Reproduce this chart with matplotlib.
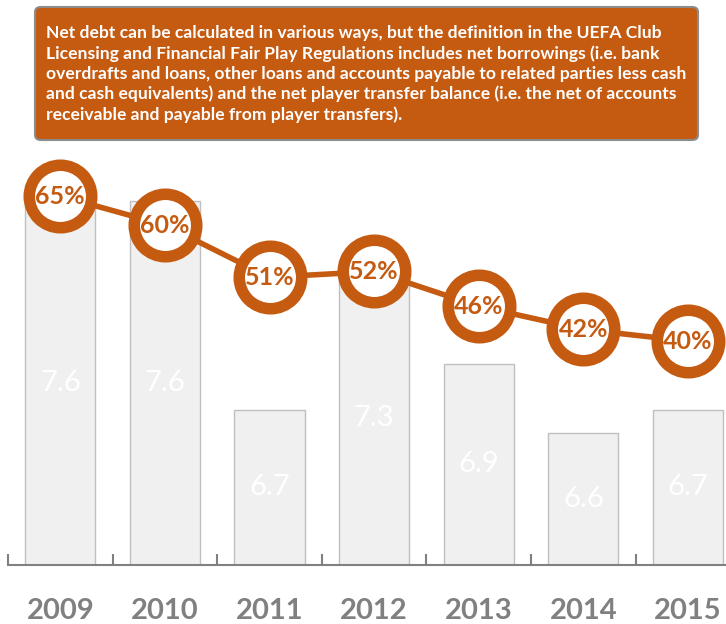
import matplotlib.pyplot as plt
from matplotlib.patches import FancyBboxPatch

# data
years = ['2009', '2010', '2011', '2012', '2013', '2014', '2015']
net_debt = [7.6, 7.6, 6.7, 7.3, 6.9, 6.6, 6.7]
debt_pct = [65, 60, 51, 52, 46, 42, 40]

note = ('Net debt can be calculated in various ways, but the definition in the UEFA Club\n'
        'Licensing and Financial Fair Play Regulations includes net borrowings (i.e. bank\n'
        'overdrafts and loans, other loans and accounts payable to related parties less cash\n'
        'and cash equivalents) and the net player transfer balance (i.e. the net of accounts\n'
        'receivable and payable from player transfers).')

orange = '#C55A11'
grey = '#808080'

plt.rcParams['font.family'] = ['Lato', 'DejaVu Sans']

fig = plt.figure(figsize=(7.26, 6.24), dpi=100)
# axes: left edge at x=8px, baseline at y=565px, top at figure top
ax = fig.add_axes([8 / 726, 59 / 624, 1 - 8 / 726, 565 / 624])
x = list(range(len(years)))

ax.bar(x, net_debt, width=0.67, bottom=0, color='#f0f0f0',
       edgecolor='#bfbfbf', linewidth=1.0, zorder=1)
ax.set_ylim(6.03, 8.47)

for xi, v in zip(x, net_debt):
    ax.text(xi, (6.03 + v) / 2, f'{v:.1f}', ha='center', va='center',
            color='white', fontsize=21, zorder=2)

for side in ['top', 'right', 'left']:
    ax.spines[side].set_visible(False)
ax.spines['bottom'].set_color(grey)
ax.spines['bottom'].set_linewidth(1.5)
ax.set_yticks([])
ax.set_xticks(x)
ax.set_xticklabels(years, fontsize=21, fontweight='bold', color=grey)
ax.tick_params(axis='x', which='major', length=0, pad=24)
ax.set_xticks([i - 0.5 for i in range(len(years) + 1)], minor=True)
ax.tick_params(axis='x', which='minor', direction='in', length=8,
               width=1.5, color=grey)

ax2 = ax.twinx()
ax2.set_ylim(1.4, 98.8)
ax2.set_axis_off()
ax2.plot(x, debt_pct, color=orange, linewidth=4, zorder=2)
ax2.plot(x, debt_pct, 'o', markersize=45, markerfacecolor='white',
         markeredgecolor=orange, markeredgewidth=8.3, zorder=3)
for xi, p in zip(x, debt_pct):
    ax2.text(xi, p, f'{p}%', ha='center', va='center', color=orange,
             fontsize=18, fontweight='bold', zorder=4)

# set after plotting, twinx shares x and would rescale it
ax.set_xlim(-0.5, 6.364)

# note box at the top
box = FancyBboxPatch((35 / 726, 1 - 140 / 624), 663 / 726, 133 / 624,
                     boxstyle='round,pad=0,rounding_size=0.008',
                     transform=fig.transFigure, facecolor=orange,
                     edgecolor='#8c8c8c', linewidth=1.5)
fig.patches.append(box)
fig.text(46 / 726, 1 - 74 / 624, note, ha='left', va='center',
         color='white', fontsize=12.6, fontweight='bold', linespacing=1.3)

fig.savefig('out.png', dpi=100)
